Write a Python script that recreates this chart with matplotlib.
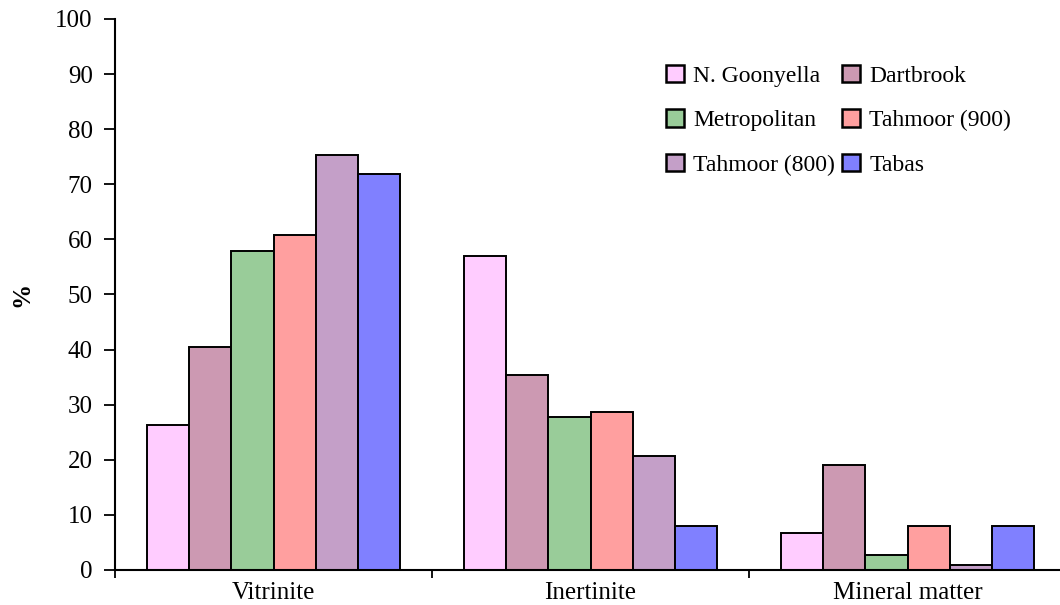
import matplotlib
matplotlib.use("Agg")
import matplotlib.pyplot as plt
import numpy as np

plt.rcParams['font.family'] = ['Liberation Serif', 'DejaVu Serif']

# data
categories = ['Vitrinite', 'Inertinite', 'Mineral matter']
series = ['N. Goonyella', 'Dartbrook', 'Metropolitan',
          'Tahmoor (900)', 'Tahmoor (800)', 'Tabas']
values = {
    'N. Goonyella':  [26.3, 56.9, 6.8],
    'Dartbrook':     [40.4, 35.4, 19.1],
    'Metropolitan':  [57.9, 27.8, 2.7],
    'Tahmoor (900)': [60.8, 28.6, 7.9],
    'Tahmoor (800)': [75.3, 20.6, 0.9],
    'Tabas':         [71.8, 7.9, 7.9],
}
colors = ['#FFCCFF', '#CC99B2', '#99CC99', '#FF9F9F', '#C49FC8', '#8080FF']

fig = plt.figure(figsize=(10.6, 6.05), dpi=100)
ax = fig.add_axes([0.1085, 0.0579, 0.8972, 0.9107])

x = np.arange(len(categories))
n = len(series)
w = 0.8 / n
bars = []
for i, name in enumerate(series):
    b = ax.bar(x - 0.4 + w * (i + 0.5), values[name], w, color=colors[i],
               edgecolor='black', linewidth=1.4, label=name)
    bars.append(b)

ax.set_xlim(-0.5, len(categories) - 0.5)
ax.set_ylim(0, 100)
ax.set_yticks(range(0, 101, 10))
ax.set_xticks(x)
ax.set_xticklabels(categories)
ax.set_xticks(np.arange(-0.5, len(categories), 1), minor=True)
ax.tick_params(axis='x', which='major', length=0, pad=9, labelsize=18)
ax.tick_params(axis='x', which='minor', length=6, width=1.3, direction='out')
ax.tick_params(axis='y', length=8, width=1.3, direction='out', pad=8, labelsize=18)

for s in ['top', 'right']:
    ax.spines[s].set_visible(False)
for s in ['left', 'bottom']:
    ax.spines[s].set_linewidth(1.5)

ax.set_ylabel('%', fontsize=18, fontweight='bold', labelpad=16)

# legend filled row by row (2 columns)
order = [0, 2, 4, 1, 3, 5]
leg = ax.legend([bars[i] for i in order], [series[i] for i in order],
                ncol=2, frameon=False, fontsize=17, loc='upper left',
                bbox_to_anchor=(0.557, 0.955), handlelength=0.75, handleheight=0.75,
                handletextpad=0.4, columnspacing=0.3, labelspacing=0.95)
for h in leg.legend_handles:
    h.set_linewidth(1.8)

fig.savefig('out.png', dpi=100)
